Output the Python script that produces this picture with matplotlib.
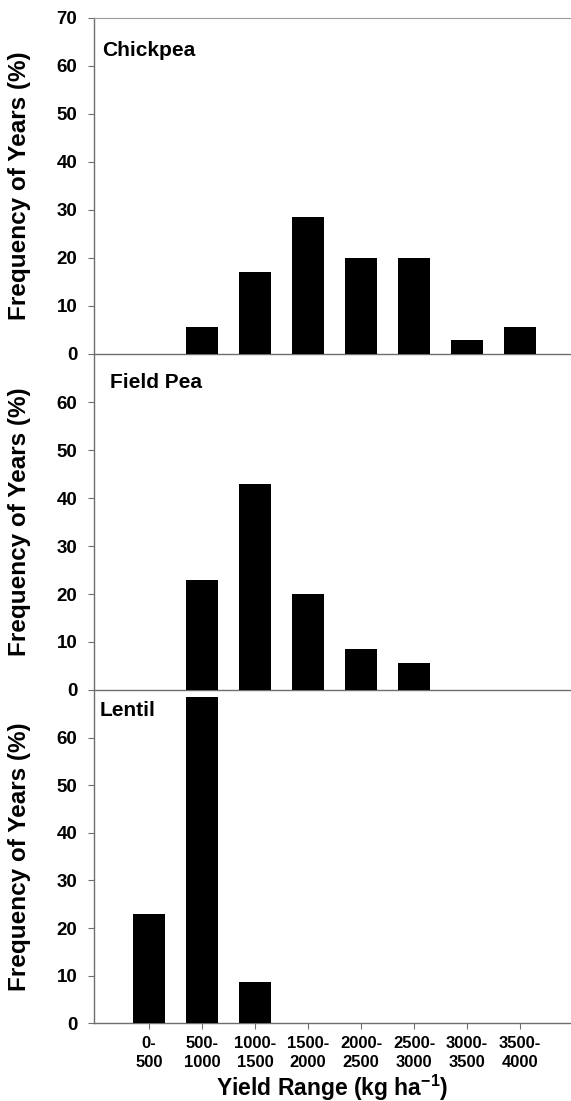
import matplotlib
matplotlib.use("Agg")
import matplotlib.pyplot as plt
import numpy as np

plt.rcParams['font.family'] = ['Liberation Sans', 'DejaVu Sans']
plt.rcParams['font.weight'] = 'bold'
plt.rcParams['mathtext.fontset'] = 'custom'
plt.rcParams['mathtext.rm'] = 'Liberation Sans:bold'
plt.rcParams['mathtext.bf'] = 'Liberation Sans:bold'
plt.rcParams['mathtext.default'] = 'bf'

categories = ["0-\n500", "500-\n1000", "1000-\n1500", "1500-\n2000",
              "2000-\n2500", "2500-\n3000", "3000-\n3500", "3500-\n4000"]
crops = ["Chickpea", "Field Pea", "Lentil"]
chickpea = [0, 5.7, 17.1, 28.6, 20.0, 20.0, 2.9, 5.7]
field_pea = [0, 22.9, 42.9, 20.0, 8.6, 5.7, 0, 0]
lentil = [22.9, 68.6, 8.6, 0, 0, 0, 0, 0]
series = [chickpea, field_pea, lentil]

W, H = 571, 1101
fig = plt.figure(figsize=(W / 100, H / 100), dpi=100)

left = 94 / W
width = 1 - left
panel_px = [(17.7, 354.0), (354.0, 690.0), (690.0, 1023.3)]
label_pos = [(102, 50), (110, 383), (100, 711)]
spine_col = '#6e6e6e'
x = np.arange(len(categories))

for i, (name, vals) in enumerate(zip(crops, series)):
    top, bot = panel_px[i]
    ax = fig.add_axes([left, 1 - bot / H, width, (bot - top) / H])
    ax.set_facecolor('none')
    ax.bar(x, vals, width=0.6, color='black', zorder=3, clip_on=False)
    ax.set_xlim(-1.04, 7.96)
    ax.set_ylim(0, 70)
    if i == 0:
        ax.set_yticks(np.arange(0, 71, 10))
    else:
        ax.set_yticks(np.arange(0, 61, 10))
    ax.spines['right'].set_visible(False)
    ax.spines['top'].set_visible(i == 0)
    ax.spines['top'].set_color('#9a9a9a')
    ax.spines['top'].set_linewidth(0.8)
    for s in ['left', 'bottom']:
        ax.spines[s].set_color(spine_col)
        ax.spines[s].set_linewidth(1.0)
    ax.tick_params(axis='y', direction='out', length=4, width=0.8,
                   color=spine_col, labelsize=13.5, pad=8)
    for lab in ax.get_yticklabels():
        lab.set_fontweight('bold')
    if i == 2:
        ax.set_xticks(x)
        ax.set_xticklabels(categories, fontsize=12, fontweight='bold',
                           linespacing=1.35)
        ax.tick_params(axis='x', direction='out', length=4, width=0.8,
                       color=spine_col, pad=5)
        ax.set_xlabel(r'Yield Range (kg ha$^{-1}$)', fontsize=16.5,
                      fontweight='bold', va='baseline')
        ax.xaxis.set_label_coords(0.5, 1 - 1096 / H, transform=fig.transFigure)
    else:
        ax.set_xticks([])
    ax.set_ylabel('Frequency of Years (%)', fontsize=17.5, fontweight='bold')
    ax.yaxis.set_label_coords((31 - 94) / 477, 0.5, transform=ax.transAxes)
    fig.text(label_pos[i][0] / W, 1 - label_pos[i][1] / H, name,
             fontsize=15, fontweight='bold', va='center', ha='left')

lab = fig.axes[-1].xaxis.label
lab.set_x(left + width / 2)

fig.savefig('out.png', dpi=100)
